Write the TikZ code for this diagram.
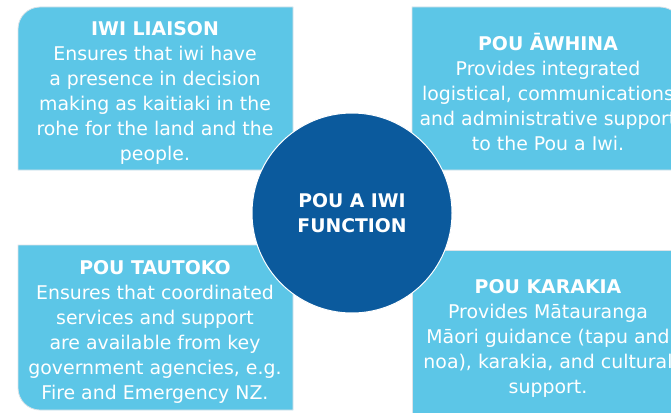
\documentclass[tikz,border=0pt]{standalone}
\usepackage{fontspec}
\setmainfont{DejaVu Sans}
\definecolor{paleblue}{HTML}{5CC6E7}
\definecolor{deepblue}{HTML}{0B5A9D}
\definecolor{rimgray}{HTML}{DCE3E8}
\begin{document}
\begin{tikzpicture}[x=1pt,y=-1pt,
  panel/.style={fill=paleblue,draw=rimgray,line width=0.8pt},
  paneltext/.style={text=white,align=center,inner sep=0pt,
    font=\fontsize{18.9}{25}\selectfont},
  hub/.style={circle,fill=deepblue,draw=white,line width=1pt,
    minimum size=200pt,inner sep=0pt,text=white,align=center,
    font=\bfseries\fontsize{18.8}{25}\selectfont}]
\useasboundingbox (0,0) rectangle (671,412);
\begin{scope}
\clip (0,0) rectangle (671,412);
% four panels, each with one rounded outer corner
\draw[panel] (18,170) -- (18,29) arc[start angle=180,end angle=270,radius=22] -- (293,7) -- (293,170) -- cycle;
\draw[panel] (412,7) -- (660,7) arc[start angle=270,end angle=360,radius=22] -- (682,170) -- (412,170) -- cycle;
\draw[panel] (18,245) -- (293,245) -- (293,410) -- (40,410) arc[start angle=90,end angle=180,radius=22] -- cycle;
\draw[panel] (412,250) -- (690,250) -- (690,420) -- (412,420) -- cycle;
\end{scope}
% panel texts
\node[paneltext] (liaison) at (155,93) {\textbf{IWI LIAISON}\\Ensures that iwi have\\a presence in decision\\making as kaitiaki in the\\rohe for the land and the\\people.};
\node[paneltext] (awhina) at (548,92) {\textbf{POU ĀWHINA}\\Provides integrated\\logistical, communications\\and administrative support\\to the Pou a Iwi.};
\node[paneltext] (tautoko) at (155,332) {\textbf{POU TAUTOKO}\\Ensures that coordinated\\services and support\\are available from key\\government agencies, e.g.\\Fire and Emergency NZ.};
\node[paneltext] (karakia) at (548,338) {\textbf{POU KARAKIA}\\Provides Mātauranga\\Māori guidance (tapu and\\noa), karakia, and cultural\\support.};
% central hub
\node[hub] (pou) at (352,213) {POU A IWI\\FUNCTION};
\end{tikzpicture}
\end{document}
